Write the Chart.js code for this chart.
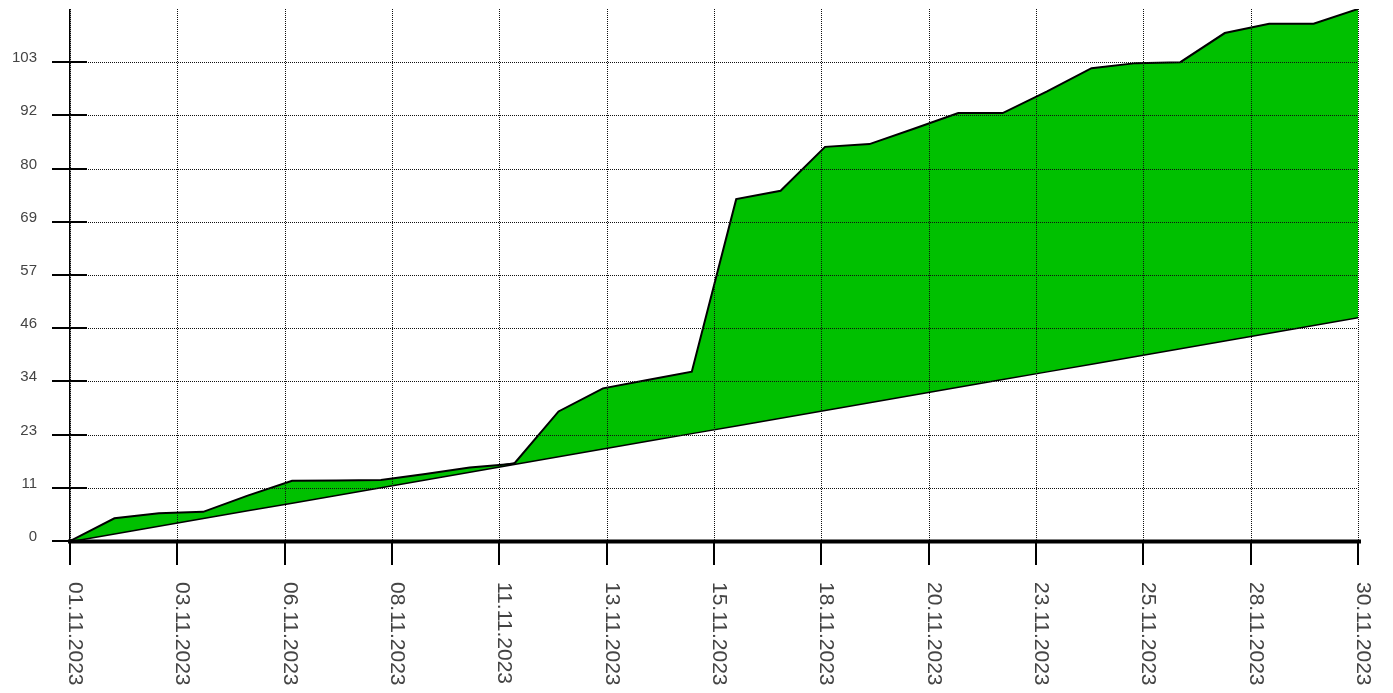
<!DOCTYPE html>
<html>
<head>
<meta charset="utf-8">
<script src="https://cdn.jsdelivr.net/npm/chart.js@4.4.1/dist/chart.umd.min.js"></script>
<style>
  html, body { margin: 0; padding: 0; background: #ffffff; }
  #wrap { width: 1393px; height: 693px; position: relative; }
</style>
</head>
<body>
<div id="wrap"><canvas id="c" width="1393" height="693"></canvas></div>
<script>
// ---- data ----
const categories = [
  '01.11.2023','02.11.2023','03.11.2023','04.11.2023','05.11.2023','06.11.2023',
  '07.11.2023','08.11.2023','09.11.2023','10.11.2023','11.11.2023','12.11.2023',
  '13.11.2023','14.11.2023','15.11.2023','16.11.2023','17.11.2023','18.11.2023',
  '19.11.2023','20.11.2023','21.11.2023','22.11.2023','23.11.2023','24.11.2023',
  '25.11.2023','26.11.2023','27.11.2023','28.11.2023','29.11.2023','30.11.2023'
];
const actualValues = [
  0, 4.9, 6.0, 6.3, 9.8, 13.0, 13.1, 13.2, 14.5, 15.9,
  16.7, 28.0, 33.0, 34.8, 36.6, 73.9, 75.7, 85.2, 85.8, 89.1,
  92.5, 92.5, 97.2, 102.2, 103.3, 103.5, 109.8, 111.8, 111.8, 115.0
];
const targetValues = [
  0, 1.67, 3.34, 5.01, 6.68, 8.34, 10.01, 11.68, 13.35, 15.02,
  16.69, 18.36, 20.03, 21.70, 23.37, 25.03, 26.70, 28.37, 30.04, 31.71,
  33.38, 35.05, 36.72, 38.39, 40.06, 41.72, 43.39, 45.06, 46.73, 48.40
];
const yMax = 115;
const yTickCount = 10;   // ticks 0 .. 9 * yMax/10
const xTickCount = 13;   // evenly spaced date ticks

const toPoints = arr => arr.map((v, i) => ({ x: i, y: v }));

const FONT = '"Liberation Sans", Arial, sans-serif';

const axesPlugin = {
  id: 'axesPlugin',
  afterDatasetsDraw(chart) {
    // dotted grid drawn over the filled area
    const ctx = chart.ctx;
    const xs = chart.scales.x, ys = chart.scales.y;
    const area = chart.chartArea;
    ctx.save();
    ctx.strokeStyle = '#111';
    ctx.lineWidth = 1;
    ctx.setLineDash([1, 1]);
    ctx.beginPath();
    xs.ticks.forEach(t => {
      const px = Math.round(xs.getPixelForValue(t.value)) + 0.5;
      ctx.moveTo(px, area.top);
      ctx.lineTo(px, area.bottom);
    });
    ys.ticks.forEach(t => {
      const py = Math.round(ys.getPixelForValue(t.value)) + 0.5;
      ctx.moveTo(area.left, py);
      ctx.lineTo(area.right, py);
    });
    ctx.stroke();
    ctx.restore();
  },
  afterDraw(chart) {
    const ctx = chart.ctx;
    const xs = chart.scales.x, ys = chart.scales.y;
    const area = chart.chartArea;
    ctx.save();
    ctx.fillStyle = '#000';
    // y axis line
    ctx.fillRect(Math.round(area.left) - 1, Math.round(area.top), 1.4, 565 - Math.round(area.top));
    // thick x axis (zero line)
    const y0 = ys.getPixelForValue(0);
    ctx.fillRect(area.left - 2, y0 - 1.5, area.right - area.left + 5, 4);
    // y tick marks + labels
    ctx.font = '15px ' + FONT;
    ctx.textAlign = 'right';
    ctx.textBaseline = 'alphabetic';
    ys.ticks.forEach(t => {
      const py = Math.round(ys.getPixelForValue(t.value));
      ctx.fillStyle = '#000';
      ctx.fillRect(area.left - 18, py - 1, 35, 2);
      ctx.fillStyle = '#444';
      ctx.fillText(String(Math.floor(t.value + 1e-9)), 37, py);
    });
    // x tick marks + rotated labels
    ctx.font = '21px ' + FONT;
    ctx.textAlign = 'left';
    xs.ticks.forEach(t => {
      const px = Math.round(xs.getPixelForValue(t.value));
      ctx.fillStyle = '#000';
      ctx.fillRect(px - 1, y0, 2, 565 - y0);
      ctx.save();
      ctx.translate(px - 1.5, 582);
      ctx.rotate(Math.PI / 2);
      ctx.fillStyle = '#444';
      ctx.textBaseline = 'alphabetic';
      ctx.fillText(categories[Math.ceil(t.value - 0.5 - 1e-9)], 0, 0);
      ctx.restore();
    });
    ctx.restore();
  }
};

new Chart(document.getElementById('c'), {
  type: 'line',
  data: {
    datasets: [
      {
        label: 'Actual',
        data: toPoints(actualValues),
        borderColor: '#000000',
        borderWidth: 2,
        backgroundColor: '#00c000',
        fill: '+1',
        pointRadius: 0,
        tension: 0
      },
      {
        label: 'Target',
        data: toPoints(targetValues),
        borderColor: '#000000',
        borderWidth: 3,
        fill: false,
        pointRadius: 0,
        tension: 0
      }
    ]
  },
  options: {
    responsive: false,
    animation: false,
    devicePixelRatio: 1,
    layout: { padding: { top: 9, right: 35, left: 0, bottom: 0 } },
    plugins: { legend: { display: false }, tooltip: { enabled: false }, title: { display: false } },
    scales: {
      x: {
        type: 'linear',
        min: 0,
        max: categories.length - 1,
        afterBuildTicks(scale) {
          const n = categories.length - 1;
          scale.ticks = Array.from({ length: xTickCount }, (_, k) => ({ value: n * k / (xTickCount - 1) }));
        },
        afterFit(scale) { scale.height = 152; },
        ticks: { display: false },
        grid: { display: false, drawTicks: false },
        border: { display: false }
      },
      y: {
        type: 'linear',
        min: 0,
        max: yMax,
        afterBuildTicks(scale) {
          scale.ticks = Array.from({ length: yTickCount }, (_, k) => ({ value: yMax * k / 10 }));
        },
        afterFit(scale) { scale.width = 70; },
        ticks: { display: false },
        grid: { display: false, drawTicks: false },
        border: { display: false }
      }
    }
  },
  plugins: [axesPlugin]
});
</script>
</body>
</html>
